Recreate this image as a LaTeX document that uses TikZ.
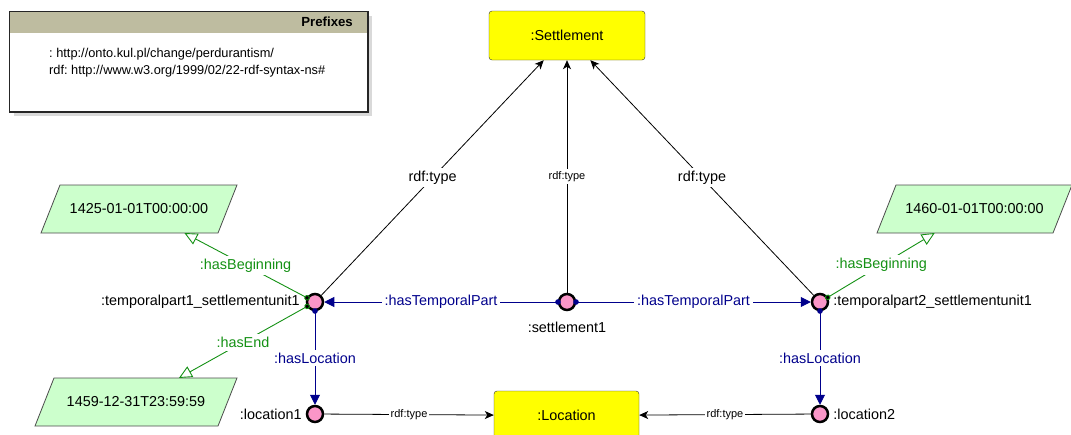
\documentclass[tikz,border=0pt]{standalone}
\usepackage{fontspec}
\setmainfont{Liberation Sans}
\usetikzlibrary{arrows.meta,backgrounds}
\definecolor{pinkn}{RGB}{250,150,200}
\definecolor{navyc}{RGB}{0,0,140}
\definecolor{greenc}{RGB}{20,145,20}
\definecolor{litfill}{RGB}{204,255,204}
\definecolor{hdrc}{RGB}{190,188,160}
\definecolor{yelc}{RGB}{255,255,0}
\newcommand\fsmain{\fontsize{14.4}{16}\selectfont}
\newcommand\fssmall{\fontsize{11}{13}\selectfont}
\newcommand\fspre{\fontsize{12.8}{15}\selectfont}
\frenchspacing
\begin{document}
\begin{tikzpicture}[x=1pt,y=-1pt,
  cls/.style={draw=black!80, fill=yelc, rounded corners=3pt, minimum width=156pt, minimum height=49pt, font=\fsmain},
  ind/.style={circle, draw=black, line width=2.5pt, fill=pinkn, minimum size=16pt, inner sep=0pt},
  lit/.style={minimum height=48pt, inner sep=0pt, outer sep=0pt, font=\fsmain},
  litshape/.style={draw=black!70, fill=litfill, line width=0.8pt},
  nlab/.style={font=\fsmain, inner sep=3pt},
  rdft/.style={draw=black, line width=0.8pt, -{Stealth[length=9pt,width=8pt,inset=2.5pt]}},
  bigl/.style={fill=white, inner sep=3pt, font=\fsmain},
  smalll/.style={fill=white, inner sep=2pt, font=\fssmall},
  opl/.style={fill=white, inner sep=3pt, font=\fsmain, text=navyc},
  dpl/.style={fill=white, inner sep=3pt, font=\fsmain, text=greenc},
  op/.style={draw=navyc, line width=0.9pt, {Circle[length=5.5pt]}-{Triangle[length=10pt,width=10pt]}, shorten <=-3pt},
  dp/.style={draw=greenc, line width=0.9pt, {Circle[length=5.5pt,fill=black]}-{Triangle[open,length=13pt,width=12pt,fill=white]}, shorten <=-3pt}
]
\useasboundingbox (0,0) rectangle (1071,434);
\clip (0,0) rectangle (1071,434);

% Prefixes box
\fill[black!15] (14,16) rectangle (372,116);
\node[draw=black!85, fill=white, line width=1pt, anchor=north west, minimum width=358pt, minimum height=100pt, inner sep=0pt] (pbox) at (9,11) {};
\node[fill=hdrc, anchor=north west, minimum width=357pt, minimum height=21pt, inner sep=0pt] (phead) at (9.5,11.5) {};
\draw[black!85, line width=1pt] (pbox.north west) rectangle (pbox.south east);
\node[anchor=east, font=\fontsize{13.2}{15}\selectfont\bfseries, inner sep=0pt] (ptitle) at (353,22) {Prefixes};
\node[anchor=west, font=\fspre, inner sep=0pt] (pl1) at (49,54) {: http://onto.kul.pl/change/perdurantism/};
\node[anchor=west, font=\fspre, inner sep=0pt] (pl2) at (49,71) {rdf: http://www.w3.org/1999/02/22-rdf-syntax-ns\#};

% classes
\node[cls] (S) at (567,35.5) {:Settlement};
\node[cls, minimum width=145pt] (L) at (566.5,415.5) {:Location};

% individuals
\node[ind, label={[nlab, label distance=3pt]left:{:temporalpart1\_settlementunit1}}] (tp1) at (315,302) {};
\node[ind, label={[nlab, label distance=8pt]below:{:settlement1}}] (s1) at (567,302) {};
\node[ind, label={[nlab, label distance=1pt]right:{:temporalpart2\_settlementunit1}}] (tp2) at (820,302) {};
\node[ind, label={[nlab, label distance=1pt]left:{:location1}}] (loc1) at (315,414) {};
\node[ind, label={[nlab, label distance=1pt]right:{:location2}}] (loc2) at (820,414) {};

% literals
\node[lit, minimum width=196pt] (d1) at (139,209) {1425-01-01T00:00:00};
\node[lit, minimum width=202pt] (d2) at (136,402) {1459-12-31T23:59:59};
\node[lit, minimum width=195pt] (d3) at (974.5,209) {1460-01-01T00:00:00};
\begin{scope}[on background layer]
\foreach \n in {d1,d2,d3}
  \draw[litshape] ([xshift=19pt]\n.north west) -- (\n.north east) -- ([xshift=-19pt]\n.south east) -- (\n.south west) -- cycle;
\end{scope}

% rdf:type edges
\draw[rdft] (tp1) -- node[bigl]{rdf:type} (S);
\draw[rdft] (s1) -- node[smalll]{rdf:type} (S);
\draw[rdft] (tp2) -- node[bigl]{rdf:type} (S);
\draw[rdft] (loc1) -- node[smalll]{rdf:type} (L);
\draw[rdft] (loc2) -- node[smalll]{rdf:type} (L);

% object properties
\draw[op] (s1) -- node[opl]{:hasTemporalPart} (tp1);
\draw[op] (s1) -- node[opl]{:hasTemporalPart} (tp2);
\draw[op] (tp1) -- node[opl]{:hasLocation} (loc1);
\draw[op] (tp2) -- node[opl]{:hasLocation} (loc2);

% datatype properties
\draw[dp] (tp1) -- node[dpl]{:hasBeginning} (d1);
\draw[dp] (tp1) -- node[dpl]{:hasEnd} (d2);
\draw[dp] (tp2) -- node[dpl]{:hasBeginning} (d3);
\end{tikzpicture}
\end{document}
